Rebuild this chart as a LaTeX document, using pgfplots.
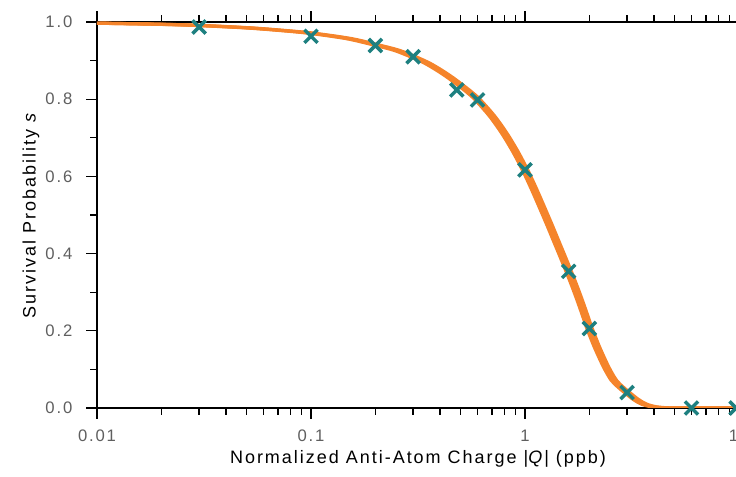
\documentclass[border=0pt]{standalone}
\usepackage{pgfplots}
\pgfplotsset{compat=1.18}
\usepackage{pgfplotstable}
\usepackage{fontspec}
\setmainfont{Liberation Sans}[LetterSpace=11]

\definecolor{curveorange}{RGB}{245,132,43}
\definecolor{markteal}{RGB}{30,128,128}
\definecolor{tickgray}{RGB}{95,95,95}

% fitted survival curve
\pgfplotstableread{
Q s
0.01 0.997
0.02 0.994
0.03 0.991
0.05 0.985
0.07 0.979
0.1 0.971
0.15 0.957
0.2 0.941
0.25 0.927
0.3 0.910
0.35 0.893
0.4 0.874
0.45 0.855
0.5 0.836
0.55 0.818
0.6 0.799
0.7 0.757
0.8 0.712
0.9 0.665
1.0 0.617
1.1 0.568
1.2 0.520
1.3 0.475
1.4 0.432
1.5 0.392
1.6 0.354
1.7 0.317
1.8 0.280
1.9 0.243
2.0 0.207
2.1 0.177
2.2 0.150
2.4 0.105
2.6 0.072
2.8 0.054
3.0 0.040
3.3 0.022
3.6 0.010
4.0 0.003
4.5 0.0005
5.0 0.0
6.0 0.0
8.0 0.0
10.0 0.0
}\curvedata

% measured points
\pgfplotstableread{
Q s
0.03 0.987
0.1 0.963
0.2 0.939
0.3 0.910
0.48 0.824
0.6 0.798
1.0 0.617
1.6 0.354
2.0 0.206
3.0 0.040
6.0 0.0
9.7 0.0
}\pointdata

\begin{document}
\begin{tikzpicture}
\begin{axis}[
  name=ax,
  scale only axis,
  width=481.5pt, height=289.5pt,
  xmode=log,
  xmin=0.01, xmax=10,
  ymin=0, ymax=1,
  axis line style={line width=1.3pt},
  tick align=outside,
  major tick length=8pt,
  minor tick length=5pt,
  every tick/.style={black, line width=1pt},
  xtick={0.01,0.1,1,10},
  xticklabels={0.01,0.1,1,10},
  ytick={0,0.2,0.4,0.6,0.8,1},
  minor ytick={0.1,0.3,0.5,0.7,0.9},
  yticklabel style={xshift=-7pt, /pgf/number format/.cd, fixed, fixed zerofill, precision=1},
  xticklabel style={yshift=-5pt},
  /pgf/number format/assume math mode=true,
  tick label style={font=\fontsize{12.5}{14}\selectfont, text=tickgray},
  xlabel={Normalized Anti-Atom Charge |\textit{Q}| (ppb)},
  ylabel={Survival Probability \textit{s}},
  xlabel style={font=\fontsize{13.5}{15}\selectfont, at={(axis description cs:0.5,-0.133)}, anchor=center},
  ylabel style={font=\fontsize{13.5}{15}\selectfont, at={(axis description cs:-0.103,0.5)}, anchor=center},
]

% the curve is widened where it is steep
\addplot[curveorange, line width=2.4pt, smooth, xshift=-2pt] table[x=Q,y=s] {\curvedata};
\addplot[curveorange, line width=2.4pt, smooth, xshift=2pt] table[x=Q,y=s] {\curvedata};
\addplot[curveorange, line width=2.4pt, smooth] table[x=Q,y=s] {\curvedata};

\addplot[only marks, mark=x, mark size=7pt,
  mark options={line width=2.6pt, draw=markteal}] table[x=Q,y=s] {\pointdata};

\end{axis}
\pgfresetboundingbox
\path[use as bounding box] (ax.south west) ++(-72.75pt,-51.75pt) rectangle ++(552pt,357.75pt);
\end{tikzpicture}
\end{document}
